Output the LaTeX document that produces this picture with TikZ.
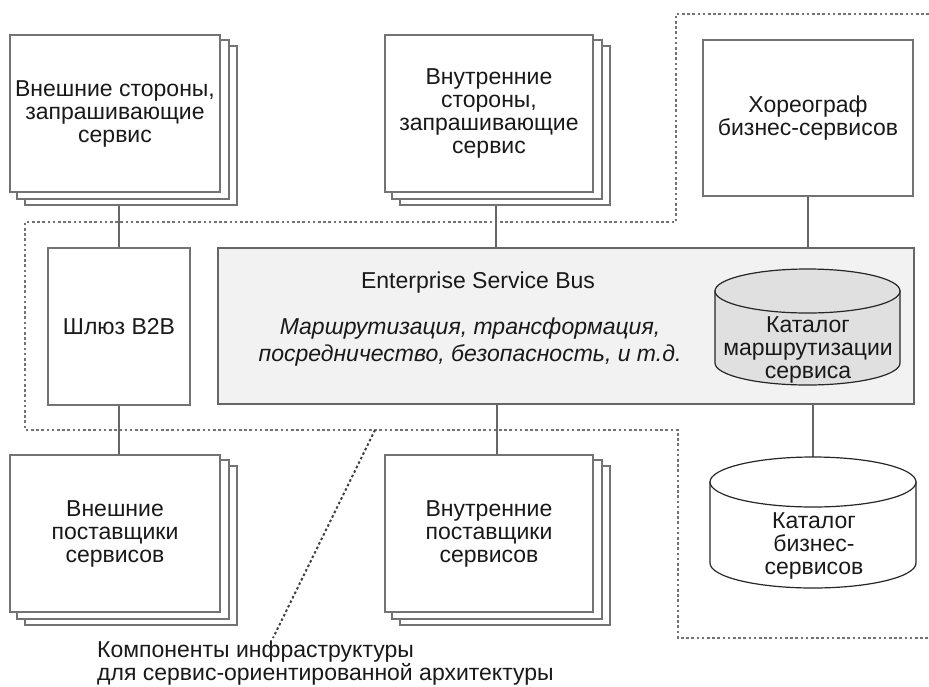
\documentclass[tikz,border=0pt]{standalone}
\usepackage{fontspec}
\setmainfont{Liberation Sans}
\usetikzlibrary{positioning, calc, backgrounds}

\begin{document}
\begin{tikzpicture}[
    x=1pt, y=-1pt,
    every node/.style={font=\fontsize{23}{23}\selectfont, text=black!90},
    box/.style={
        draw=black!55, line width=2.2pt, fill=white, align=center,
        minimum width=#1, minimum height=157pt, inner sep=0pt
    },
    sheet/.style={draw=black!55, line width=2.2pt, fill=white},
    bus/.style={draw=black!60, line width=2.2pt, fill=black!5},
    link/.style={draw=black!60, line width=2pt},
    border/.style={draw=black!55, line width=2.6pt, dash pattern=on 2.6pt off 2.6pt},
    pointer/.style={draw=black!75, line width=2pt, dash pattern=on 2.5pt off 2.5pt},
    drum/.style={draw=black!85, line width=1.2pt},
    caption/.style={align=center, inner sep=0pt}
]
\useasboundingbox (0,0) rectangle (929,686);

% requesters and choreographer
\node[box=210pt] (extreq) at (115,113.5) {Внешние стороны,\\запрашивающие\\сервис};
\node[box=208pt] (intreq) at (489,113.5) {Внутренние\\стороны,\\запрашивающие\\сервис};
\node[box=210pt, minimum height=156pt] (chor) at (808,118) {Хореограф\\бизнес-сервисов};

% gateway and bus
\node[box=142pt] (b2b) at (119,326.5) {Шлюз B2B};
\node[bus, minimum width=696pt, minimum height=156pt] (esb) at (566,326) {};
\node (esbtitle) at (478,283) {Enterprise Service Bus};
\node[caption, font=\fontsize{23}{27}\selectfont\itshape] (esbrole) at (470,342)
    {Маршрутизация, трансформация,\\посредничество, безопасность, и т.д.};

% providers
\node[box=210pt] (extprov) at (115,533.5) {Внешние\\поставщики\\сервисов};
\node[box=208pt] (intprov) at (489,533.5) {Внутренние\\поставщики\\сервисов};

% catalogues
\foreach \cx/\cy/\rx/\ry/\len/\tone in {807.5/291/92.5/22/72/black!12, 813/482/103/25/81/white}{
    \path[drum, fill=\tone] (\cx-\rx,\cy) -- ++(0,\len)
        arc[start angle=180, end angle=0, x radius=\rx, y radius=\ry] -- ++(0,-\len) -- cycle;
    \path[drum, fill=\tone] (\cx,\cy) ellipse [x radius=\rx, y radius=\ry];
}
\node[caption] (routecat) at (808,350) {Каталог\\маршрутизации\\сервиса};
\node[caption] (bizcat) at (814,546) {Каталог\\бизнес-\\сервисов};
\coordinate (bizcattop) at (813,457);

% infrastructure label
\coordinate (tip) at (375,430);
\node[anchor=north west, inner sep=0pt, align=left] (infra) at (97,641)
    {Компоненты инфраструктуры\\для сервис-ориентированной архитектуры};

\begin{scope}[on background layer]
    % SOA infrastructure boundary
    \draw[border] (929,14) -- (676,14) -- (676,222) -- (25,222) -- (25,430)
        -- (678,430) -- (678,638) -- (929,638);
    \draw[pointer] (tip) -- ($(infra.north west)+(176,-3)$);
    % connectors
    \draw[link] (b2b.north |- extreq.south) -- (b2b.north);
    \draw[link] (b2b.south) -- (b2b.south |- extprov.north);
    \draw[link] ([xshift=7pt]intreq.south) -- ([xshift=7pt]intreq.south |- esb.north);
    \draw[link] ([xshift=8pt]intprov.north |- esb.south) -- ([xshift=8pt]intprov.north);
    \draw[link] (chor.south) -- (chor.south |- esb.north);
    \draw[link] (esb.south -| bizcattop) -- (bizcattop);
    % stacked sheets
    \foreach \n in {extreq, intreq, extprov, intprov}
        \foreach \dx/\dy in {16/12, 8/6}
            \draw[sheet] ([shift={(\dx,\dy)}]\n.north west) rectangle ([shift={(\dx,\dy)}]\n.south east);
\end{scope}

\end{tikzpicture}
\end{document}
